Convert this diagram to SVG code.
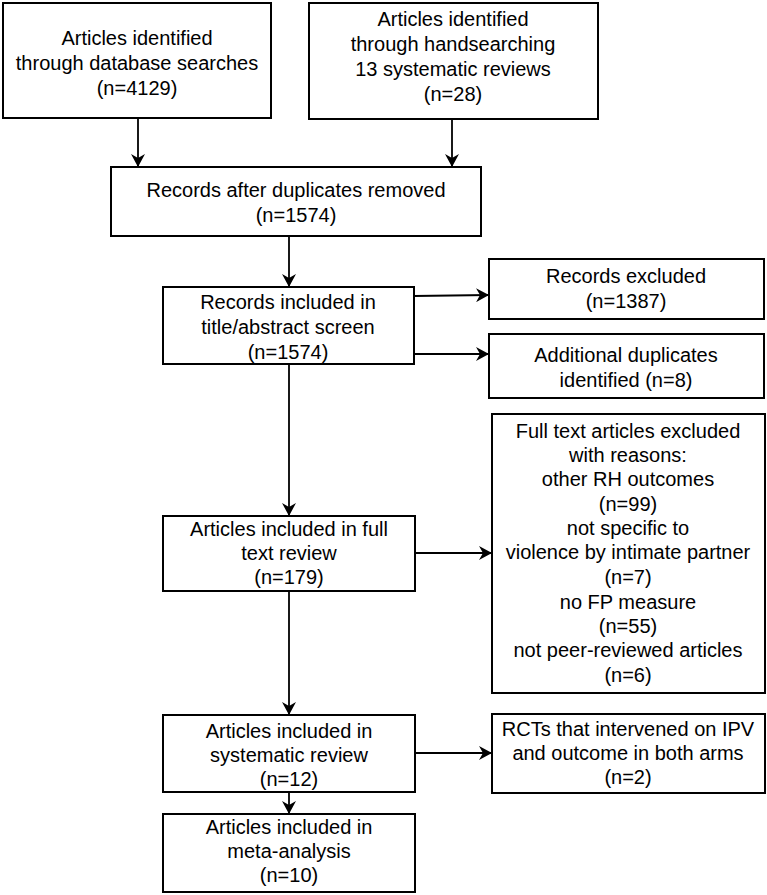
<svg xmlns="http://www.w3.org/2000/svg" width="767" height="895" viewBox="0 0 767 895">
<style>
.box{fill:#fff;stroke:#000;stroke-width:2}
text{font-family:"Liberation Sans",Arial,sans-serif;font-size:20px;fill:#000;text-anchor:middle}
.c line{stroke:#000;stroke-width:1.8;marker-end:url(#ah)}
</style>
<defs>
<marker id="ah" viewBox="0 0 13 14" refX="13" refY="7" markerWidth="13" markerHeight="14" markerUnits="userSpaceOnUse" orient="auto">
<path d="M0,0 L13,7 L0,14 L4,7 z" fill="#000"/>
</marker>
</defs>
<rect width="767" height="895" fill="#fff"/>
<g class="c" id="connectors">
<line x1="138" y1="118" x2="138" y2="167"/>
<line x1="452" y1="119" x2="452" y2="167"/>
<line x1="289" y1="236" x2="289" y2="287"/>
<line x1="414" y1="296" x2="489" y2="295"/>
<line x1="414" y1="354" x2="489" y2="354"/>
<line x1="289" y1="364" x2="289" y2="516"/>
<line x1="415" y1="553" x2="492" y2="553"/>
<line x1="289" y1="591" x2="289" y2="715"/>
<line x1="415" y1="753" x2="492" y2="753"/>
<line x1="289" y1="792" x2="289" y2="814"/>
</g>
<g id="n1"><rect class="box" x="3" y="3" width="268" height="115"/>
<text x="137" y="45">Articles identified</text><text x="137" y="70">through database searches</text><text x="137" y="95">(n=4129)</text></g>
<g id="n2"><rect class="box" x="309" y="3" width="289" height="116"/>
<text x="453" y="26">Articles identified</text><text x="453" y="51">through handsearching</text><text x="453" y="76">13 systematic reviews</text><text x="453" y="101">(n=28)</text></g>
<g id="n3"><rect class="box" x="111" y="167" width="370" height="69"/>
<text x="296" y="197">Records after duplicates removed</text><text x="296" y="222">(n=1574)</text></g>
<g id="n4"><rect class="box" x="163" y="287" width="251" height="77"/>
<text x="288" y="309">Records included in</text><text x="288" y="334">title/abstract screen</text><text x="288" y="359">(n=1574)</text></g>
<g id="n5"><rect class="box" x="489" y="259" width="275" height="60"/>
<text x="626" y="283">Records excluded</text><text x="626" y="308">(n=1387)</text></g>
<g id="n6"><rect class="box" x="489" y="334" width="275" height="64"/>
<text x="626" y="362">Additional duplicates</text><text x="626" y="387">identified (n=8)</text></g>
<g id="n7"><rect class="box" x="492" y="414" width="273" height="279"/>
<text x="628" y="438">Full text articles excluded</text>
<text x="628" y="462">with reasons:</text>
<text x="628" y="486">other RH outcomes</text>
<text x="628" y="511">(n=99)</text>
<text x="628" y="535">not specific to</text>
<text x="628" y="559">violence by intimate partner</text>
<text x="628" y="584">(n=7)</text>
<text x="628" y="609">no FP measure</text>
<text x="628" y="633">(n=55)</text>
<text x="628" y="657">not peer-reviewed articles</text>
<text x="628" y="682">(n=6)</text></g>
<g id="n8"><rect class="box" x="163" y="516" width="252" height="75"/>
<text x="289" y="536">Articles included in full</text><text x="289" y="560">text review</text><text x="289" y="584">(n=179)</text></g>
<g id="n9"><rect class="box" x="163" y="715" width="252" height="77"/>
<text x="289" y="738">Articles included in</text><text x="289" y="762">systematic review</text><text x="289" y="786">(n=12)</text></g>
<g id="n10"><rect class="box" x="492" y="714" width="273" height="79"/>
<text x="628" y="736">RCTs that intervened on IPV</text><text x="628" y="760">and outcome in both arms</text><text x="628" y="784">(n=2)</text></g>
<g id="n11"><rect class="box" x="163" y="814" width="252" height="78"/>
<text x="289" y="834">Articles included in</text><text x="289" y="858">meta-analysis</text><text x="289" y="882">(n=10)</text></g>
</svg>
